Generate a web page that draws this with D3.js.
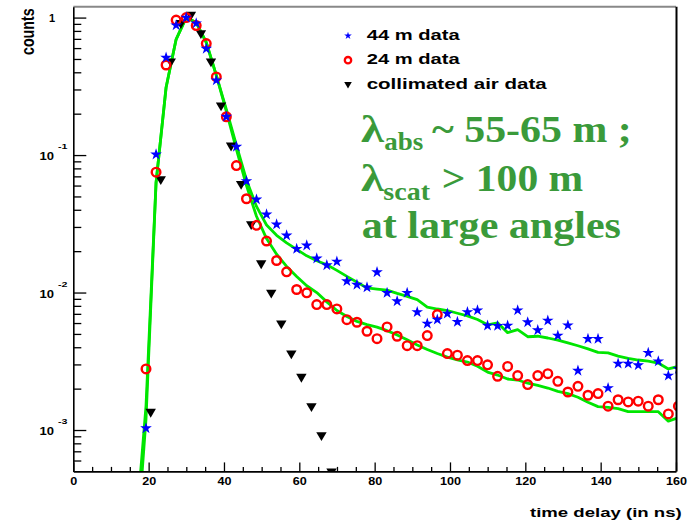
<!DOCTYPE html>
<html>
<head>
<meta charset="utf-8">
<script src="https://cdn.jsdelivr.net/npm/d3@7/dist/d3.min.js"></script>
<style>
  html, body { margin: 0; padding: 0; background: #fff; }
  svg { display: block; }
</style>
</head>
<body>
<svg id="chart" width="689" height="524"></svg>
<script>
// Bin centres (ns) of the 44 m and 24 m time-delay histograms
const tData = [19.3, 21.97, 24.63, 27.3, 29.97, 32.63, 35.3, 37.97, 40.63, 43.3,
  45.97, 48.63, 51.3, 53.97, 56.63, 59.3, 61.97, 64.63, 67.3, 69.97,
  72.63, 75.3, 77.97, 80.63, 83.3, 85.97, 88.63, 91.3, 93.97, 96.63,
  99.3, 101.97, 104.63, 107.3, 109.97, 112.63, 115.3, 117.97, 120.63, 123.3,
  125.97, 128.63, 131.3, 133.97, 136.63, 139.3, 141.97, 144.63, 147.3, 149.97,
  152.63, 155.3, 157.97, 160.63];

// 44 m data (normalised counts)
const data44 = [0.00103, 0.101, 0.511, 0.879, 1.0, 0.909, 0.594, 0.35, 0.19, 0.115,
  0.0646, 0.0475, 0.037, 0.0313, 0.026, 0.0208, 0.022, 0.0177, 0.0158, 0.0168,
  0.0121, 0.0114, 0.0109, 0.01406, 0.00995, 0.00865, 0.00995, 0.0072, 0.00594, 0.00635,
  0.00703, 0.00612, 0.0072, 0.00743, 0.00575, 0.00572, 0.00575, 0.00743, 0.00608, 0.00532,
  0.00625, 0.00486, 0.00578, 0.0027, 0.0046, 0.0046, 0.00202, 0.00304, 0.00304, 0.00296,
  0.00364, 0.00316, 0.00249, 0.00278];

// 24 m data (normalised counts)
const data24 = [0.00278, 0.0751, 0.452, 0.96, 1.0, 0.875, 0.647, 0.37, 0.19, 0.0839,
  0.0481, 0.0308, 0.0237, 0.0171, 0.01415, 0.01052, 0.00995, 0.00818, 0.00818, 0.0076,
  0.00635, 0.00608, 0.00523, 0.00462, 0.00562, 0.00481, 0.00411, 0.00411, 0.00486, 0.00692,
  0.0036, 0.0035, 0.0032, 0.0032, 0.00298, 0.00246, 0.0029, 0.00249, 0.00214, 0.00249,
  0.00257, 0.00226, 0.00189, 0.00208, 0.00179, 0.00184, 0.00149, 0.00166, 0.0016, 0.00162,
  0.00149, 0.00166, 0.00131, 0.00149];

// Collimated air reference run
const tAir = [20.55, 23.22, 25.88, 28.55, 31.22, 33.88, 36.55, 39.22, 41.88, 44.55,
  47.22, 49.88, 52.55, 55.22, 57.88, 60.55, 63.22, 65.88, 68.55];
const dataAir = [0.00133, 0.0654, 0.47, 0.894, 1.03, 0.756, 0.47, 0.225, 0.115, 0.0604,
  0.0308, 0.016, 0.00978, 0.00585, 0.00354, 0.00239, 0.00146, 0.0009, 0.00049];

// Monte Carlo curves (one bin earlier than the data so the rise starts below the axis)
const tSim = [16.63].concat(tData);
const sim44 = [0.00012, 0.0012, 0.063, 0.31, 0.695, 1.0, 0.92, 0.66, 0.38, 0.215, 0.118,
  0.066, 0.0423, 0.031, 0.0261, 0.023, 0.0206, 0.0185, 0.01705, 0.0159, 0.0145,
  0.0131, 0.0119, 0.0108, 0.0106, 0.0104, 0.00985, 0.00938, 0.00887, 0.00784, 0.00759,
  0.0074, 0.00707, 0.00677, 0.00636, 0.00583, 0.00602, 0.00511, 0.00538, 0.00477, 0.00481,
  0.00467, 0.00451, 0.0043, 0.0041, 0.00389, 0.00367, 0.00364, 0.00345, 0.00332, 0.00323,
  0.00317, 0.00307, 0.00278, 0.0029];
const sim24 = [0.00019, 0.0015, 0.063, 0.31, 0.695, 1.0, 0.92, 0.66, 0.38, 0.208, 0.110,
  0.060, 0.0359, 0.0247, 0.019, 0.0155, 0.0131, 0.0112, 0.0100, 0.00855, 0.0074,
  0.0067, 0.00617, 0.00584, 0.0056, 0.00528, 0.00492, 0.00453, 0.00416, 0.00385, 0.0036,
  0.00339, 0.00324, 0.00312, 0.00291, 0.00264, 0.00251, 0.00235, 0.00231, 0.00219, 0.00211,
  0.00202, 0.00191, 0.00184, 0.00173, 0.00159, 0.00148, 0.00146, 0.00143, 0.00136, 0.00136,
  0.00136, 0.00136, 0.00116, 0.00123];

// Axis ticks
const xMajor = [0, 20, 40, 60, 80, 100, 120, 140, 160];
const xMinor = d3.range(0, 161, 5).filter(v => v % 20 !== 0);
const yDecades = [1, 0.1, 0.01, 0.001];
const yDecadeLabels = [{base: "1", exp: ""}, {base: "10", exp: "-1"}, {base: "10", exp: "-2"}, {base: "10", exp: "-3"}];
const yMinor = [0.0006, 0.0007, 0.0008, 0.0009]
  .concat(d3.range(2, 10).map(m => m * 0.001))
  .concat(d3.range(2, 10).map(m => m * 0.01))
  .concat(d3.range(2, 10).map(m => m * 0.1));

const legendItems = [
  {label: "44 m data", kind: "star", len: 93},
  {label: "24 m data", kind: "circle", len: 93},
  {label: "collimated air data", kind: "tri", len: 180}
];

// ---------------------------------------------------------------------------
const svg = d3.select("#chart");
const L = 73.3, R = 676, T = 6.7, B = 471.4;

const x = d3.scaleLinear().domain([0, 160]).range([L, R]);
const y = d3.scaleLog().domain([0.0005, 1.2]).range([B, T]);

svg.append("rect").attr("width", 689).attr("height", 524).attr("fill", "#fff");

svg.append("defs").append("clipPath").attr("id", "plotclip")
  .append("rect").attr("x", L).attr("y", T).attr("width", R - L).attr("height", B - T);

const plot = svg.append("g").attr("clip-path", "url(#plotclip)");

const green = "#00e600";
const line = d3.line().x(d => x(d[0])).y(d => y(d[1]));

[sim44, sim24].forEach(s => {
  plot.append("path")
    .datum(tSim.map((t, i) => [t, s[i]]))
    .attr("d", line)
    .attr("fill", "none")
    .attr("stroke", green)
    .attr("stroke-width", 2.8)
    .attr("stroke-linejoin", "round");
});

// marker shapes
const triPath = (s) => `M${-s},${-0.8 * s}L${s},${-0.8 * s}L0,${0.9 * s}Z`;
const starPath = d3.symbol().type(d3.symbolStar);

plot.selectAll("path.air")
  .data(tAir.map((t, i) => [t, dataAir[i]]))
  .join("path")
  .attr("class", "air")
  .attr("transform", d => `translate(${x(d[0])},${y(d[1])})`)
  .attr("d", triPath(5.2))
  .attr("fill", "#000");

plot.selectAll("circle.d24")
  .data(tData.map((t, i) => [t, data24[i]]))
  .join("circle")
  .attr("class", "d24")
  .attr("cx", d => x(d[0]))
  .attr("cy", d => y(d[1]))
  .attr("r", 4.3)
  .attr("fill", "none")
  .attr("stroke", "#ff0000")
  .attr("stroke-width", 2.4);

plot.selectAll("path.d44")
  .data(tData.map((t, i) => [t, data44[i]]))
  .join("path")
  .attr("class", "d44")
  .attr("transform", d => `translate(${x(d[0])},${y(d[1])})`)
  .attr("d", starPath.size(42)())
  .attr("fill", "#0000ff");

// ---------------------------------------------------------------------------
// Frame
svg.append("line").attr("x1", L).attr("x2", R).attr("y1", T).attr("y2", T)
  .attr("stroke", "#888").attr("stroke-width", 2);
svg.append("line").attr("x1", R + 0.5).attr("x2", R + 0.5).attr("y1", T).attr("y2", B)
  .attr("stroke", "#000").attr("stroke-width", 2);

// X axis
const gx = svg.append("g").attr("transform", `translate(0,${B})`);
gx.append("g").call(d3.axisBottom(x).tickValues(xMinor).tickSize(-4.5).tickSizeOuter(0).tickFormat(""))
  .call(g => g.select(".domain").remove());
gx.append("g").call(d3.axisBottom(x).tickValues(xMajor).tickSize(-9).tickSizeOuter(0))
  .call(g => g.select(".domain").attr("stroke-width", 1.6))
  .call(g => g.selectAll("text")
    .attr("y", 14).attr("dy", 0)
    .attr("font-family", "'Liberation Sans', Arial, sans-serif")
    .attr("font-weight", "bold")
    .attr("font-size", 10)
    .attr("fill", "#000")
    .attr("lengthAdjust", "spacingAndGlyphs")
    .attr("textLength", d => String(d).length * 7));
gx.selectAll(".tick line").attr("stroke", "#000").attr("stroke-width", 1.3);

// Y axis
const gy = svg.append("g").attr("transform", `translate(${L},0)`);
gy.append("g").call(d3.axisLeft(y).tickValues(yMinor).tickSize(-8).tickSizeOuter(0).tickFormat(""))
  .call(g => g.select(".domain").remove());
gy.append("g").call(d3.axisLeft(y).tickValues(yDecades).tickSize(-13).tickSizeOuter(0).tickFormat(""))
  .call(g => g.select(".domain").attr("stroke-width", 1.6));
gy.selectAll(".tick line").attr("stroke", "#000").attr("stroke-width", 1.3);

const sansBold = "'Liberation Sans', Arial, sans-serif";
yDecades.forEach((v, i) => {
  const lab = yDecadeLabels[i];
  const yy = y(v);
  if (lab.exp === "") {
    svg.append("text").attr("x", 55).attr("y", yy + 4.5)
      .attr("text-anchor", "end").attr("font-family", sansBold).attr("font-weight", "bold")
      .attr("font-size", 11).text(lab.base);
  } else {
    svg.append("text").attr("x", 39.5).attr("y", yy + 5)
      .attr("font-family", sansBold).attr("font-weight", "bold").attr("font-size", 11)
      .attr("lengthAdjust", "spacingAndGlyphs").attr("textLength", 14.5).text(lab.base);
    svg.append("text").attr("x", 58).attr("y", yy - 6)
      .attr("font-family", sansBold).attr("font-weight", "bold").attr("font-size", 7)
      .attr("lengthAdjust", "spacingAndGlyphs").attr("textLength", 9.5).text(lab.exp);
  }
});

// Axis titles
svg.append("text")
  .attr("transform", "translate(33.5,55) scale(1.3,1) rotate(-90)")
  .attr("font-family", sansBold).attr("font-weight", "bold").attr("font-size", 14.5)
  .attr("lengthAdjust", "spacingAndGlyphs").attr("textLength", 46.7)
  .text("counts");

svg.append("text")
  .attr("x", 530).attr("y", 516.8)
  .attr("font-family", sansBold).attr("font-weight", "bold").attr("font-size", 12)
  .attr("lengthAdjust", "spacingAndGlyphs").attr("textLength", 151.7)
  .text("time delay (in ns)");

// Legend
const legend = svg.append("g");
const legendY = [35.7, 60.2, 85];
legendItems.forEach((it, i) => {
  const cy = legendY[i];
  if (it.kind === "star") {
    legend.append("path").attr("transform", `translate(348,${cy})`)
      .attr("d", d3.symbol().type(d3.symbolStar).size(18)()).attr("fill", "#0000ff");
  } else if (it.kind === "circle") {
    legend.append("circle").attr("cx", 348).attr("cy", cy).attr("r", 3.2)
      .attr("fill", "none").attr("stroke", "#ff0000").attr("stroke-width", 2.3);
  } else {
    legend.append("path").attr("transform", `translate(348,${cy})`)
      .attr("d", triPath(3.8)).attr("fill", "#000");
  }
  legend.append("text").attr("x", 366.7).attr("y", cy + 4.2)
    .attr("font-family", sansBold).attr("font-weight", "bold").attr("font-size", 15)
    .attr("lengthAdjust", "spacingAndGlyphs").attr("textLength", it.len)
    .text(it.label);
});

// Attenuation-length annotation
const serif = "'Liberation Serif', 'Times New Roman', serif";
const noteColor = "#3a9a3a";
const note = svg.append("g").attr("fill", noteColor).attr("font-family", serif).attr("font-weight", "bold");
const notePieces = [
  {t: "λ", x: 361, y: 141.7, fs: 38, len: 23},
  {t: "abs", x: 384.3, y: 150, fs: 25, len: 39},
  {t: "~ 55-65 m ;", x: 432, y: 141.7, fs: 38, len: 199.7},
  {t: "λ", x: 361, y: 190.7, fs: 38, len: 23},
  {t: "scat", x: 383.3, y: 200, fs: 25, len: 46.7},
  {t: "> 100 m", x: 441.7, y: 190.7, fs: 38, len: 141.6},
  {t: "at large angles", x: 361.7, y: 238.3, fs: 38, len: 259.3}
];
notePieces.forEach(p => {
  note.append("text").attr("x", p.x).attr("y", p.y).attr("font-size", p.fs)
    .attr("lengthAdjust", "spacingAndGlyphs").attr("textLength", p.len).text(p.t);
});
</script>
</body>
</html>
